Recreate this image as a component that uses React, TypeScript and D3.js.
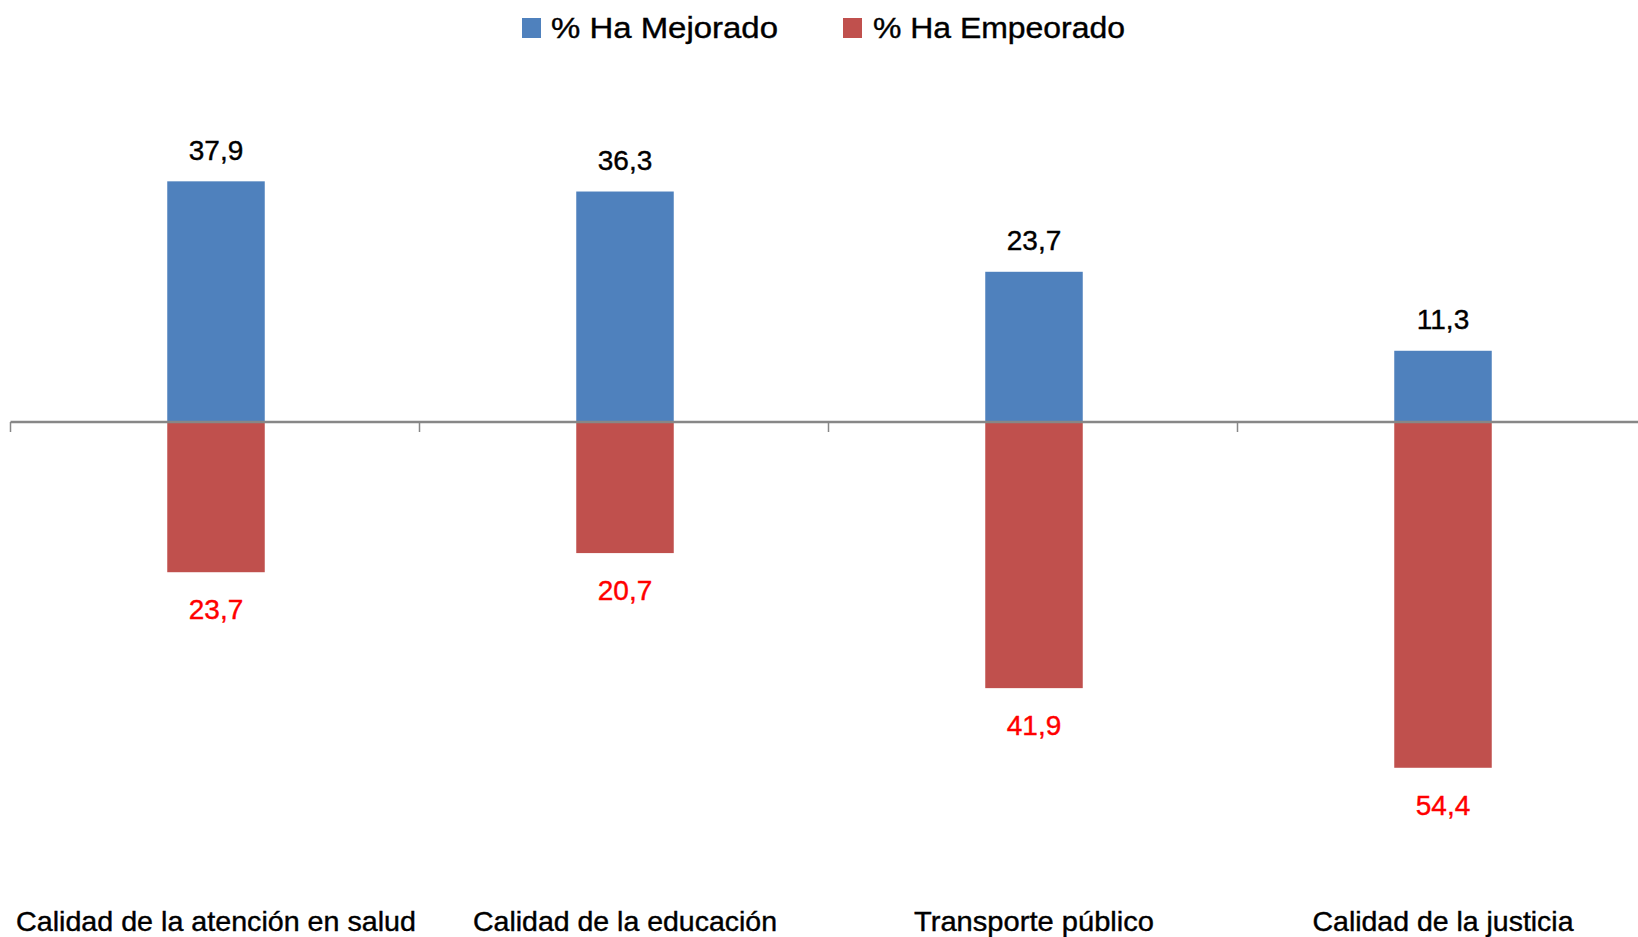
import React from "react";
import * as d3 from "d3";

const categories = [
  "Calidad de la atención en salud",
  "Calidad de la educación",
  "Transporte público",
  "Calidad de la justicia",
];
const mejorado = [37.9, 36.3, 23.7, 11.3];
const empeorado = [23.7, 20.7, 41.9, 54.4];
const seriesNames = ["% Ha Mejorado", "% Ha Empeorado"];
const labelWidths = [400, 304, 240, 261];

const W = 1638;
const H = 937;
const BLUE = "#4F81BD";
const RED = "#C0504D";
const FONT = "'Liberation Sans', Arial, sans-serif";

export default function App() {
  const x = d3.scaleBand<string>().domain(categories).range([11.5, 1647.5]).padding(0);
  const y = d3.scaleLinear().domain([-60, 40]).range([804.2, 167.2]);
  const barW = 99;
  const fmt = (v: number) => v.toFixed(1).replace(".", ",");
  const y0 = y(0);

  return (
    <svg
      width={W}
      height={H}
      style={{ position: "absolute", left: 0, top: 0, background: "#fff" }}
      fontFamily={FONT}
    >
      <rect x={0} y={0} width={W} height={H} fill="#fff" />
      {/* legend */}
      <rect x={522} y={18} width={19} height={20} fill={BLUE} />
      <text x={551} y={37.5} fontSize={30} textLength={227} lengthAdjust="spacingAndGlyphs" fill="#000" stroke="#000" strokeWidth={0.4}>
        {seriesNames[0]}
      </text>
      <rect x={843} y={18} width={19} height={20} fill={RED} />
      <text x={873} y={37.5} fontSize={30} textLength={252} lengthAdjust="spacingAndGlyphs" fill="#000" stroke="#000" strokeWidth={0.4}>
        {seriesNames[1]}
      </text>

      {/* bars */}
      {categories.map((c, i) => {
        const cx = (x(c) as number) + x.bandwidth() / 2;
        const top = y(mejorado[i]);
        const bot = y(-empeorado[i]);
        return (
          <g key={c}>
            <rect x={cx - barW / 2} y={top} width={barW} height={y0 - top} fill={BLUE} stroke="#fff" strokeWidth={1.5} />
            <rect x={cx - barW / 2} y={y0} width={barW} height={bot - y0} fill={RED} stroke="#fff" strokeWidth={1.5} />
          </g>
        );
      })}

      {/* axis line */}
      <line x1={x.range()[0] - 1} x2={W} y1={y0} y2={y0} stroke="#878787" strokeWidth={2.5} />
      {categories.map((c) => (
        <line key={"t" + c} x1={(x(c) as number) - 1} x2={(x(c) as number) - 1} y1={y0} y2={y0 + 10} stroke="#878787" strokeWidth={1.5} />
      ))}

      {/* value labels */}
      {categories.map((c, i) => {
        const cx = (x(c) as number) + x.bandwidth() / 2;
        return (
          <g key={"v" + c}>
            <text x={cx} y={y(mejorado[i]) - 21} textAnchor="middle" fontSize={28} fill="#000" stroke="#000" strokeWidth={0.4}>
              {fmt(mejorado[i])}
            </text>
            <text x={cx} y={y(-empeorado[i]) + 46} textAnchor="middle" fontSize={28} fill="#FF0000" stroke="#FF0000" strokeWidth={0.4}>
              {fmt(empeorado[i])}
            </text>
          </g>
        );
      })}

      {/* category labels */}
      {categories.map((c, i) => {
        const cx = (x(c) as number) + x.bandwidth() / 2;
        return (
          <text
            key={"c" + c}
            x={cx - labelWidths[i] / 2}
            y={931}
            fontSize={28}
            textLength={labelWidths[i]}
            lengthAdjust="spacingAndGlyphs"
            fill="#000"
            stroke="#000"
            strokeWidth={0.4}
          >
            {c}
          </text>
        );
      })}
    </svg>
  );
}
